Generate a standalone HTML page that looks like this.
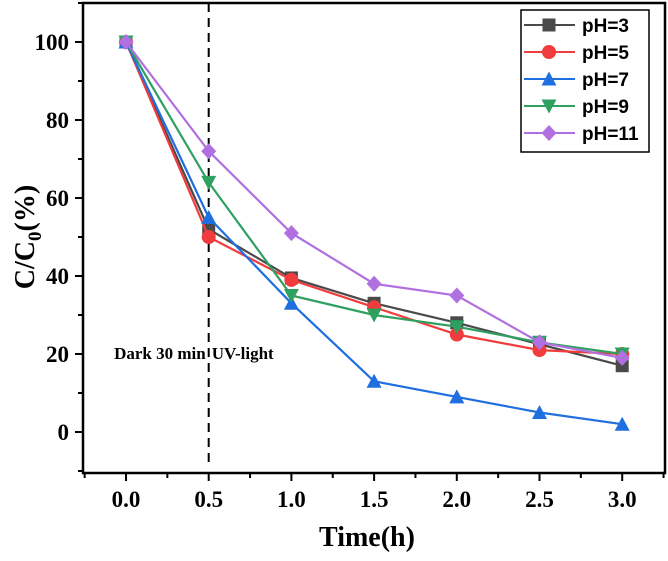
<!DOCTYPE html>
<html><head><meta charset="utf-8"><style>
body{margin:0;background:#fff;}
svg text{font-family:"Liberation Serif",serif;font-weight:bold;}
</style></head><body>
<svg id="c" width="668" height="556" xmlns="http://www.w3.org/2000/svg"></svg>
<script>
const times=[0,0.5,1,1.5,2,2.5,3];
const seriesNames=["pH=3","pH=5","pH=7","pH=9","pH=11"];
const ph3=[100,52,39.5,33,28,22.5,17];
const ph5=[100,50,39,32,25,21,20];
const ph7=[100,55,33,13,9,5,2];
const ph9=[100,64,35,30,27,23,20];
const ph11=[100,72,51,38,35,23,19];
const xTicks=["0.0","0.5","1.0","1.5","2.0","2.5","3.0"];
const yTicks=[0,20,40,60,80,100];
const colors=["#4a4a4a","#f03c3c","#1f6fe0","#2ea060","#b070e0"];
const markers=["square","circle","up","down","diamond"];
const data=[ph3,ph5,ph7,ph9,ph11];
const L=83,R=665,T=3,B=473;
const X=v=>126+v*165.4;
const Y=v=>432-v*3.9;
const svg=document.getElementById('c');
const NS="http://www.w3.org/2000/svg";
function mk(tag,attrs,parent){const e=document.createElementNS(NS,tag);for(const k in attrs)e.setAttribute(k,attrs[k]);(parent||svg).appendChild(e);return e;}
let f=mk('rect',{x:L,y:T,width:R-L,height:B-T,fill:'none',stroke:'#000','stroke-width':2.5});


for(let i=0;i<=14;i++){const v=-0.25+i*0.25;const x=X(v);if(x<L||x>R)continue;const major=Math.abs(v*2-Math.round(v*2))<1e-6&&v>=0;
 let t=mk('line',{x1:x,x2:x,y1:B,y2:B+(major?8:5),stroke:'#000','stroke-width':2});
 
 }
xTicks.forEach((s,i)=>{let t=mk('text',{x:X(times[i]),y:B+34,'text-anchor':'middle','font-size':23});t.textContent=s;
 
 });
for(let v=-10;v<=110;v+=10){const y=Y(v);if(y<T||y>B)continue;const major=v%20===0&&v>=0&&v<=100;
 let t=mk('line',{x1:L-(major?8:5),x2:L,y1:y,y2:y,stroke:'#000','stroke-width':2});
 
 }
yTicks.forEach(v=>{let t=mk('text',{x:L-14,y:Y(v)+8,'text-anchor':'end','font-size':23});t.textContent=v;
 
 });
let xl=mk('text',{x:367,y:546,'text-anchor':'middle','font-size':28});xl.textContent='Time(h)';


let yl=mk('text',{x:0,y:0,'text-anchor':'middle','font-size':28,transform:'translate(34,237) rotate(-90)'});
yl.innerHTML='C/C<tspan font-size="19" dy="7">0</tspan><tspan dy="-7">(%)</tspan>';


let d=mk('line',{x1:X(0.5),x2:X(0.5),y1:T,y2:B-8,stroke:'#000','stroke-width':2,'stroke-dasharray':'9,6'});


let a1=mk('text',{x:X(0.5)-3,y:359,'text-anchor':'end','font-size':17});a1.textContent='Dark 30 min';


let a2=mk('text',{x:X(0.5)+3,y:359,'font-size':17});a2.textContent='UV-light';


function marker(type,x,y,c,g){const s=6.5;
 if(type==='square')return mk('rect',{x:x-s,y:y-s,width:2*s,height:2*s,fill:c},g);
 if(type==='circle')return mk('circle',{cx:x,cy:y,r:s+0.5,fill:c},g);
 if(type==='up')return mk('polygon',{points:`${x},${y-s-1} ${x-s-1},${y+s} ${x+s+1},${y+s}`,fill:c},g);
 if(type==='down')return mk('polygon',{points:`${x},${y+s+1} ${x-s-1},${y-s} ${x+s+1},${y-s}`,fill:c},g);
 return mk('polygon',{points:`${x},${y-s-1.5} ${x+s+1},${y} ${x},${y+s+1.5} ${x-s-1},${y}`,fill:c},g);}
data.forEach((arr,si)=>{
 const g=mk('g',{});
 
 
 let pl=mk('polyline',{points:arr.map((v,i)=>X(times[i])+','+Y(v)).join(' '),fill:'none',stroke:colors[si],'stroke-width':2.2},g);
 
 
 arr.forEach((v,i)=>{const m=marker(markers[si],X(times[i]),Y(v),colors[si],g);
  
  });
});
const lg=mk('g',{});


mk('rect',{x:521,y:10,width:128,height:142,fill:'#fff',stroke:'#000','stroke-width':1.5},lg);
seriesNames.forEach((n,i)=>{const y=25+i*27;
 const e=mk('g',{},lg);
 
 
 mk('line',{x1:524,x2:575,y1:y,y2:y,stroke:colors[i],'stroke-width':2},e);
 marker(markers[i],549,y,colors[i],e);
 const t=mk('text',{x:582,y:y+7,'font-size':19,style:'font-family:"Liberation Sans",sans-serif'},e);t.textContent=n;});
</script>
</body></html>
